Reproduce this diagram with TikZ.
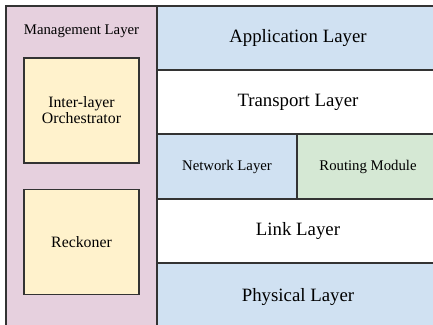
\documentclass[tikz,border=0pt]{standalone}
\usepackage{fontspec}
\setmainfont{Liberation Serif}
\usepackage{xcolor}
\usetikzlibrary{positioning}

\definecolor{layerblue}{HTML}{D0E1F2}
\definecolor{mgmtpink}{HTML}{E6D0DE}
\definecolor{modyellow}{HTML}{FFF2CC}
\definecolor{modgreen}{HTML}{D5E8D4}

\begin{document}
\begin{tikzpicture}[
    box/.style={draw=black!80, line width=0.6pt, rectangle, inner sep=0pt, align=center},
    layer/.style={box, minimum width=5.64cm, minimum height=1.28cm, font=\fontsize{10.7}{12}\selectfont},
    half/.style={box, minimum height=1.30cm, font=\fontsize{8.4}{10}\selectfont},
    module/.style={box, fill=modyellow, minimum width=2.30cm, minimum height=2.10cm, font=\fontsize{9}{11}\selectfont}
]
    \useasboundingbox (0,0) rectangle (8.66,6.5);

    % Management column
    \node[box, fill=mgmtpink, minimum width=3.02cm, minimum height=6.78cm] (mgmt) at (1.63,2.99) {};
    \node[font=\fontsize{8.4}{10}\selectfont] (mgmtlabel) at (1.63,5.87) {Management Layer};
    \node[module] (orch) at (1.63,4.29) {Inter-layer\\[-2pt]Orchestrator};
    \node[module] (reck) at (1.63,1.66) {Reckoner};

    % Protocol stack
    \node[layer, fill=layerblue] (app) at (5.96,5.74) {Application Layer};
    \node[layer, fill=white] (trans) at (5.96,4.46) {Transport Layer};
    \node[half, fill=layerblue, minimum width=2.80cm] (net) at (4.54,3.17) {Network Layer};
    \node[half, fill=modgreen, minimum width=2.84cm] (route) at (7.36,3.17) {Routing Module};
    \node[layer, fill=white] (link) at (5.96,1.88) {Link Layer};
    \node[layer, fill=layerblue, minimum height=1.36cm] (phys) at (5.96,0.56) {Physical Layer};

\end{tikzpicture}
\end{document}
